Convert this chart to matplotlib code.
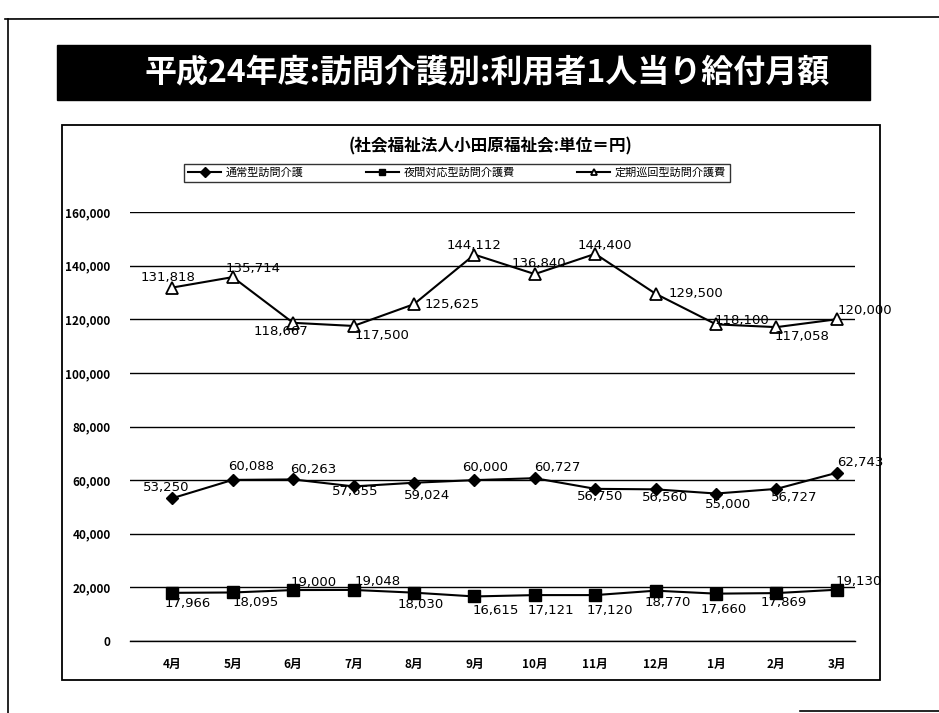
import matplotlib
matplotlib.use("Agg")
from matplotlib import pyplot as plt
from matplotlib.lines import Line2D
from matplotlib.patches import Rectangle

plt.rcParams['font.family'] = ['Noto Sans CJK JP', 'DejaVu Sans']

# data
months = ['4月', '5月', '6月', '7月', '8月', '9月', '10月', '11月', '12月', '1月', '2月', '3月']
normal = [53250, 60088, 60263, 57655, 59024, 60000, 60727, 56750, 56560, 55000, 56727, 62743]
night = [17966, 18095, 19000, 19048, 18030, 16615, 17121, 17120, 18770, 17660, 17869, 19130]
periodic = [131818, 135714, 118667, 117500, 125625, 144112, 136840, 144400, 129500, 118100, 117058, 120000]
names = ['通常型訪問介護', '夜間対応型訪問介護費', '定期巡回型訪問介護費']
yticks = [0, 20000, 40000, 60000, 80000, 100000, 120000, 140000, 160000]

# label offsets (pixels) so the numbers sit roughly where they are in the scan
off_normal = [(-6, 11), (18, 13), (20, 10), (2, -5), (13, -13), (11, 13),
              (23, 11), (5, -8), (9, -8), (12, -11), (18, -9), (23, 10)]
off_night = [(15, -11), (23, -10), (20, 8), (24, 8), (7, -12), (21, -14),
             (16, -15), (15, -15), (12, -12), (8, -16), (7, -9), (22, 8)]
off_periodic = [(-4, 10), (20, 9), (-12, -9), (28, -10), (38, 0), (0, 9),
                (4, 11), (10, 8), (40, 0), (26, 4), (26, -9), (28, 9)]

W, H = 939, 713
fig = plt.figure(figsize=(W / 100, H / 100), dpi=100)
fig.patch.set_facecolor('white')

# page frame lines from the scanned sheet
fig.add_artist(Line2D([5 / W, 1.0], [1 - 19 / H, 1 - 17 / H], color='black', lw=1.2))
fig.add_artist(Line2D([8 / W, 8 / W], [1 - 19 / H, 0.0], color='black', lw=1.2))
fig.add_artist(Line2D([800 / W, 1.0], [2 / H, 2 / H], color='black', lw=1.2))

# title banner
fig.add_artist(Rectangle((57 / W, 1 - 100 / H), (870 - 57) / W, 55 / H,
                         transform=fig.transFigure, color='black'))
fig.text(487 / W, 1 - 72 / H, '平成24年度:訪問介護別:利用者1人当り給付月額',
         color='white', fontsize=23, fontweight='bold', ha='center', va='center')

# chart frame
fig.add_artist(Rectangle((62 / W, 1 - 680 / H), (880 - 62) / W, (680 - 125) / H,
                         transform=fig.transFigure, fill=False, edgecolor='black', lw=1.3))
fig.text(490 / W, 1 - 146 / H, '(社会福祉法人小田原福祉会:単位＝円)',
         fontsize=12, fontweight='bold', ha='center', va='center')

ax = fig.add_axes([130 / W, 1 - 641 / H, (855 - 130) / W, (641 - 212) / H])
x = list(range(len(months)))

l1, = ax.plot(x, normal, color='black', lw=1.5, marker='D', markersize=6,
              markerfacecolor='black', label=names[0], zorder=3)
l2, = ax.plot(x, night, color='black', lw=1.5, marker='s', markersize=8,
              markerfacecolor='black', label=names[1], zorder=3)
l3, = ax.plot(x, periodic, color='black', lw=1.5, marker='^', markersize=8,
              markerfacecolor='white', markeredgewidth=1.3, label=names[2], zorder=3)

for vals, offs in [(normal, off_normal), (night, off_night), (periodic, off_periodic)]:
    for i, v in enumerate(vals):
        ax.annotate(f'{v:,}', (i, v), xytext=offs[i], textcoords='offset pixels',
                    ha='center', va='center', fontsize=9.5, family=['DejaVu Sans'],
                    zorder=4)

ax.set_xlim(-0.7, 11.3)
ax.set_ylim(0, 160000)
ax.set_yticks(yticks)
ax.set_yticklabels([f'{t:,}' for t in yticks], fontsize=8.5, fontweight='bold')
ax.set_xticks(x)
ax.set_xticklabels(months, fontsize=8.5, fontweight='bold')
ax.tick_params(length=0, pad=14)
ax.tick_params(axis='x', pad=12)
ax.grid(axis='y', color='black', lw=1.0)
ax.axhline(0, color='black', lw=1.0, clip_on=False, zorder=1)
ax.set_axisbelow(True)
for s in ax.spines.values():
    s.set_visible(False)

leg = fig.legend(handles=[l1, l2, l3], loc='center', ncol=3,
                 bbox_to_anchor=(457 / W, 1 - 173 / H), fontsize=8,
                 frameon=True, fancybox=False, edgecolor='black',
                 handlelength=3.0, columnspacing=5.6, borderpad=0.35,
                 handletextpad=0.4, borderaxespad=0)
leg.get_frame().set_linewidth(1.0)
for h in leg.legend_handles:
    h.set_markersize(5)

fig.savefig('out.png', dpi=100, facecolor='white')
